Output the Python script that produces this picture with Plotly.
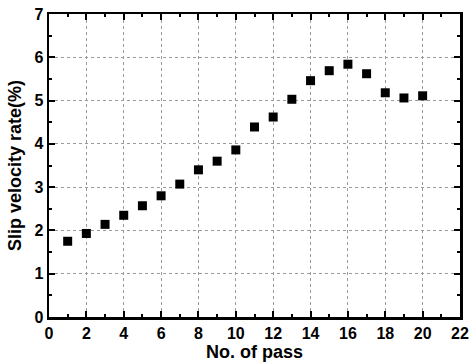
import plotly.graph_objects as go

passes = list(range(1, 21))
slip_rate = [1.75, 1.93, 2.14, 2.35, 2.57, 2.80, 3.07, 3.40, 3.60, 3.86,
             4.39, 4.62, 5.03, 5.46, 5.69, 5.84, 5.62, 5.18, 5.06, 5.11]

x_ticks = list(range(0, 23, 2))
y_ticks = list(range(0, 8))

fig = go.Figure()
fig.add_trace(go.Scatter(
    x=passes, y=slip_rate, mode="markers",
    marker=dict(symbol="square", size=9, color="black"),
    showlegend=False, hoverinfo="skip",
))

fam = "Liberation Sans, Arial"
axis_common = dict(
    showline=True, linewidth=2.5, linecolor="black", mirror="allticks",
    ticks="inside", ticklen=6, tickwidth=2, tickcolor="black",
    showgrid=True, gridcolor="#9a9a9a", griddash="dot", gridwidth=1,
    zeroline=False, automargin=False, ticklabeloverflow="allow",
    tickfont=dict(family=fam, size=16, color="black"),
    title_font=dict(family=fam, size=18, color="black"),
)

fig.update_xaxes(
    range=[0, 22], tickvals=x_ticks, ticktext=[f"<b>{v}</b>" for v in x_ticks],
    title_text="<b>No. of pass</b>", title_standoff=2,
    minor=dict(ticks="inside", dtick=1, ticklen=3, tickwidth=2, tickcolor="black", showgrid=False),
    **axis_common,
)
fig.update_yaxes(
    range=[0, 7], tickvals=y_ticks, ticktext=[f"<b>{v}</b>" for v in y_ticks],
    title_text="<b>Slip velocity rate(%)</b>", title_standoff=8,
    minor=dict(ticks="inside", dtick=0.5, ticklen=3, tickwidth=2, tickcolor="black", showgrid=False),
    **axis_common,
)

fig.update_layout(
    width=469, height=364,
    margin=dict(l=49, r=9, t=14, b=47),
    paper_bgcolor="white", plot_bgcolor="white",
    font=dict(family=fam, color="black"),
    hovermode=False,
)

fig.write_html(
    "out.html",
    config={"displayModeBar": False, "staticPlot": True},
    post_script="document.body.style.margin='0px';document.body.style.overflow='hidden';",
)
